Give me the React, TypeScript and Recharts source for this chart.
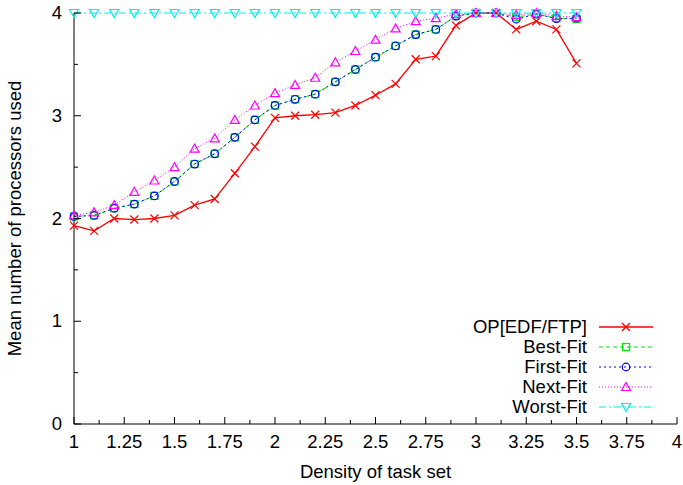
import { LineChart, Line, XAxis, YAxis, Legend } from 'recharts'

const density = [1.0, 1.1, 1.2, 1.3, 1.4, 1.5, 1.6, 1.7, 1.8, 1.9, 2.0, 2.1, 2.2, 2.3, 2.4, 2.5, 2.6, 2.7, 2.8, 2.9, 3.0, 3.1, 3.2, 3.3, 3.4, 3.5]
const opEdfFtp = [1.93, 1.88, 2.0, 1.99, 2.0, 2.03, 2.13, 2.19, 2.44, 2.7, 2.98, 3.0, 3.01, 3.03, 3.1, 3.2, 3.31, 3.55, 3.58, 3.88, 4.0, 4.0, 3.84, 3.92, 3.84, 3.51]
const bestFit = [2.02, 2.03, 2.1, 2.14, 2.22, 2.36, 2.53, 2.63, 2.79, 2.96, 3.1, 3.16, 3.21, 3.33, 3.45, 3.57, 3.68, 3.79, 3.84, 3.97, 4.0, 4.0, 3.96, 3.99, 3.95, 3.94]
const firstFit = [2.02, 2.03, 2.1, 2.14, 2.22, 2.36, 2.53, 2.63, 2.79, 2.96, 3.1, 3.16, 3.21, 3.33, 3.45, 3.57, 3.68, 3.79, 3.84, 3.97, 4.0, 4.0, 3.94, 3.99, 3.945, 3.95]
const nextFit = [2.03, 2.06, 2.13, 2.26, 2.37, 2.5, 2.68, 2.78, 2.96, 3.1, 3.22, 3.3, 3.37, 3.52, 3.63, 3.74, 3.85, 3.92, 3.95, 3.99, 4.0, 4.0, 3.98, 4.0, 3.97, 3.96]
const worstFit = [4, 4, 4, 4, 4, 4, 4, 4, 4, 4, 4, 4, 4, 4, 4, 4, 4, 4, 4, 4, 4, 4, 4, 4, 4, 4]

const xTicks = [1, 1.125, 1.25, 1.375, 1.5, 1.625, 1.75, 1.875, 2, 2.125, 2.25, 2.375, 2.5, 2.625, 2.75, 2.875, 3, 3.125, 3.25, 3.375, 3.5, 3.625, 3.75, 3.875, 4]
const yTicks = [0, 0.5, 1, 1.5, 2, 2.5, 3, 3.5, 4]

const data = density.map((x, i) => ({
    x,
    op: opEdfFtp[i],
    best: bestFit[i],
    first: firstFit[i],
    next: nextFit[i],
    worst: worstFit[i],
}))

const FONT = '"Liberation Sans", Arial, sans-serif'
const FS = 18.5

const isMajorX = (v: number) => Math.abs(v * 4 - Math.round(v * 4)) < 1e-6
const isMajorY = (v: number) => Math.abs(v - Math.round(v)) < 1e-6

// markers, gnuplot style
function Marker({ kind, cx, cy, color }: { kind: string; cx: number; cy: number; color: string }) {
    const s = 4
    if (kind === 'x') {
        return (
            <g stroke={color} strokeWidth={1.2}>
                <line x1={cx - s} y1={cy - s} x2={cx + s} y2={cy + s} />
                <line x1={cx - s} y1={cy + s} x2={cx + s} y2={cy - s} />
            </g>
        )
    }
    if (kind === 'square') {
        return <rect x={cx - 3.5} y={cy - 3.5} width={7} height={7} fill="none" stroke={color} strokeWidth={1.2} />
    }
    if (kind === 'circle') {
        return <circle cx={cx} cy={cy} r={3.8} fill="none" stroke={color} strokeWidth={1.2} />
    }
    if (kind === 'up') {
        return <path d={`M${cx},${cy - 4.5}L${cx + 4.5},${cy + 3.5}L${cx - 4.5},${cy + 3.5}Z`} fill="none" stroke={color} strokeWidth={1.2} />
    }
    return <path d={`M${cx},${cy + 4.5}L${cx + 4.5},${cy - 3.5}L${cx - 4.5},${cy - 3.5}Z`} fill="none" stroke={color} strokeWidth={1.2} />
}

const series = [
    { key: 'op', name: 'OP[EDF/FTP]', color: '#ff0000', dash: undefined, marker: 'x', width: 1.3 },
    { key: 'best', name: 'Best-Fit', color: '#00e600', dash: '4 3', marker: 'square', width: 1 },
    { key: 'first', name: 'First-Fit', color: '#0000ff', dash: '2 3', marker: 'circle', width: 1 },
    { key: 'next', name: 'Next-Fit', color: '#ff00ff', dash: '1 2', marker: 'up', width: 1 },
    { key: 'worst', name: 'Worst-Fit', color: '#00eeee', dash: '7 3 2 3', marker: 'down', width: 1 },
]

function BottomTick(props: any) {
    const { x, y, payload } = props
    const major = isMajorX(payload.value)
    return (
        <g>
            <line x1={x} y1={y} x2={x} y2={y - (major ? 7 : 4)} stroke="#000" />
            {major && (
                <text x={x} y={y + 24} textAnchor="middle" fontFamily={FONT} fontSize={FS} fill="#000">
                    {String(payload.value)}
                </text>
            )}
        </g>
    )
}

function TopTick(props: any) {
    const { x, y, payload } = props
    const major = isMajorX(payload.value)
    return <line x1={x} y1={y} x2={x} y2={y + (major ? 7 : 4)} stroke="#000" />
}

function LeftTick(props: any) {
    const { x, y, payload } = props
    const major = isMajorY(payload.value)
    return (
        <g>
            <line x1={x} y1={y} x2={x + (major ? 7 : 4)} y2={y} stroke="#000" />
            {major && (
                <text x={x - 12} y={y + 6} textAnchor="end" fontFamily={FONT} fontSize={FS} fill="#000">
                    {String(payload.value)}
                </text>
            )}
        </g>
    )
}

function RightTick(props: any) {
    const { x, y, payload } = props
    const major = isMajorY(payload.value)
    return <line x1={x} y1={y} x2={x - (major ? 7 : 4)} y2={y} stroke="#000" />
}

function LegendBox() {
    return (
        <div style={{ fontFamily: FONT, fontSize: FS, color: '#000' }}>
            {series.map(s => (
                <div key={s.key} style={{ display: 'flex', alignItems: 'center', justifyContent: 'flex-end', height: 20 }}>
                    <span style={{ lineHeight: '20px' }}>{s.name}</span>
                    <svg width={66} height={20} style={{ marginLeft: 12 }}>
                        <line x1={0} y1={10} x2={54} y2={10} stroke={s.color} strokeWidth={s.key === 'op' ? 1.6 : s.width} strokeDasharray={s.dash} />
                        <Marker kind={s.marker} cx={27} cy={10} color={s.color} />
                    </svg>
                </div>
            ))}
        </div>
    )
}

export default function App() {
    return (
        <div style={{ position: 'absolute', left: 0, top: 0, width: 683, height: 485, background: '#fff' }}>
            <LineChart width={683} height={485} data={data} margin={{ top: 13, right: 6, bottom: 0, left: 0 }}>
                <XAxis
                    xAxisId="b"
                    dataKey="x"
                    type="number"
                    domain={[1, 4]}
                    ticks={xTicks}
                    interval={0}
                    height={61}
                    tickSize={0}
                    tickMargin={0}
                    tickLine={false}
                    axisLine={{ stroke: '#000' }}
                    tick={<BottomTick />}
                    label={{ value: 'Density of task set', position: 'insideBottom', offset: 7, fontFamily: FONT, fontSize: FS, fill: '#000' }}
                />
                <XAxis
                    xAxisId="t"
                    dataKey="x"
                    type="number"
                    orientation="top"
                    domain={[1, 4]}
                    ticks={xTicks}
                    interval={0}
                    height={0}
                    tickSize={0}
                    tickMargin={0}
                    tickLine={false}
                    axisLine={{ stroke: '#000' }}
                    tick={<TopTick />}
                />
                <YAxis
                    yAxisId="l"
                    type="number"
                    domain={[0, 4]}
                    ticks={yTicks}
                    interval={0}
                    width={74}
                    tickSize={0}
                    tickMargin={0}
                    tickLine={false}
                    axisLine={{ stroke: '#000' }}
                    tick={<LeftTick />}
                    label={{ value: 'Mean number of processors used', angle: -90, position: 'insideLeft', offset: 14, style: { textAnchor: 'middle' }, fontFamily: FONT, fontSize: FS, fill: '#000' }}
                />
                <YAxis
                    yAxisId="r"
                    orientation="right"
                    type="number"
                    domain={[0, 4]}
                    ticks={yTicks}
                    interval={0}
                    width={0}
                    tickSize={0}
                    tickMargin={0}
                    tickLine={false}
                    axisLine={{ stroke: '#000' }}
                    tick={<RightTick />}
                />
                <Legend
                    layout="horizontal"
                    verticalAlign="middle"
                    align="center"
                    content={<LegendBox />}
                    wrapperStyle={{ position: 'absolute', left: 360, top: 317, width: 305 }}
                />
                {series.map(s => (
                    <Line
                        key={s.key}
                        xAxisId="b"
                        yAxisId="l"
                        type="linear"
                        dataKey={s.key}
                        name={s.name}
                        stroke={s.color}
                        strokeWidth={s.width}
                        strokeDasharray={s.dash}
                        dot={(p: any) => <Marker key={`${s.key}-${p.index}`} kind={s.marker} cx={p.cx} cy={p.cy} color={s.color} />}
                        activeDot={false}
                        isAnimationActive={false}
                    />
                ))}
            </LineChart>
        </div>
    )
}
